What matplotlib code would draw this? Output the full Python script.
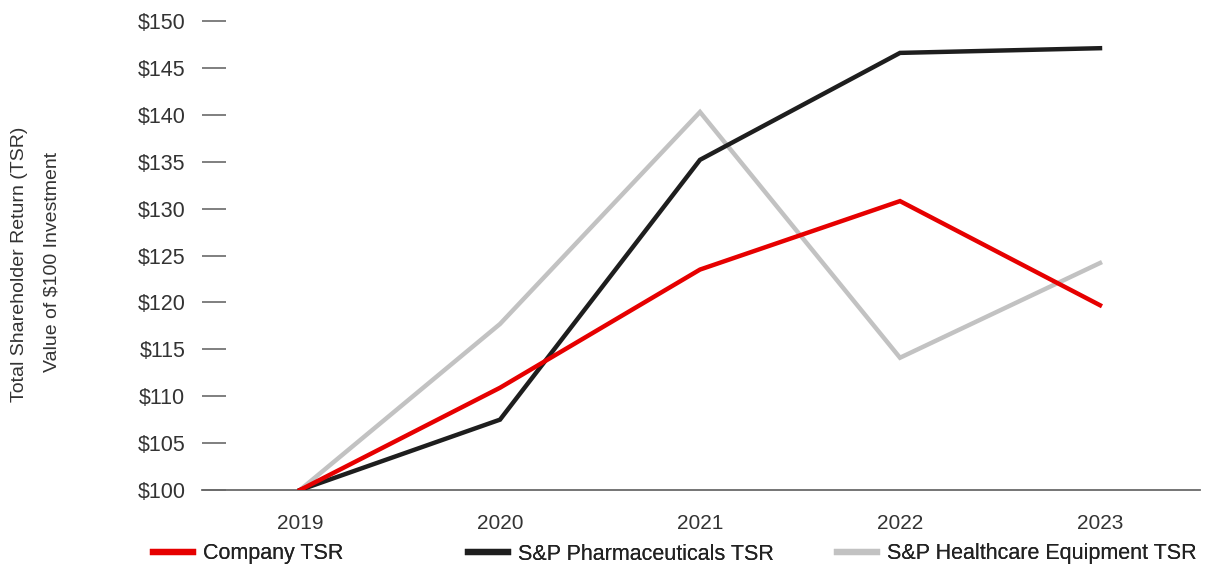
import matplotlib
matplotlib.use("Agg")
import matplotlib.pyplot as plt
from matplotlib.lines import Line2D

years = ["2019", "2020", "2021", "2022", "2023"]
company_tsr = [100, 110.9, 123.5, 130.8, 119.7]
pharma_tsr = [100, 107.5, 135.2, 146.6, 147.1]
healthcare_tsr = [100, 117.7, 140.3, 114.1, 124.2]
y_ticks = [100, 105, 110, 115, 120, 125, 130, 135, 140, 145, 150]

series_names = ["Company TSR", "S&P Pharmaceuticals TSR", "S&P Healthcare Equipment TSR"]
colors = ["#e60000", "#1e1e1e", "#c2c2c2"]

plt.rcParams["font.family"] = ["Liberation Sans", "DejaVu Sans"]

fig = plt.figure(figsize=(12.18, 5.67), dpi=100)
ax = fig.add_axes([202 / 1218, 1 - 490 / 567, (1200 - 202) / 1218, (490 - 21) / 567])

x = list(range(len(years)))
ax.plot(x, healthcare_tsr, color=colors[2], lw=3.2, solid_joinstyle="miter", zorder=2)
ax.plot(x, pharma_tsr, color=colors[1], lw=3.2, solid_joinstyle="miter", zorder=3)
ax.plot(x, company_tsr, color=colors[0], lw=3.2, solid_joinstyle="miter", zorder=4)

ax.set_xlim(-0.49, 4.5)
ax.set_ylim(100, 150)
ax.set_xticks(x)
ax.set_xticklabels(years)
ax.set_yticks(y_ticks)
ax.set_yticklabels([f"${v}" for v in y_ticks])

for s in ["top", "right", "left"]:
    ax.spines[s].set_visible(False)
ax.spines["bottom"].set_color("#6a6a6a")
ax.spines["bottom"].set_linewidth(1.3)

ax.tick_params(axis="y", direction="in", length=17, width=1.2, color="#6a6a6a",
               pad=12, labelsize=15.5, labelcolor="#333333")
ax.tick_params(axis="x", length=0, pad=17, labelsize=15, labelcolor="#333333")

fig.text(20 / 1218, 1 - 264 / 567, "Total Shareholder Return (TSR)", rotation=90,
         ha="center", va="center", fontsize=14, color="#333333")
fig.text(52 / 1218, 1 - 262 / 567, "Value of $100 Investment", rotation=90,
         ha="center", va="center", fontsize=14, color="#333333")

# legend entries placed individually along the bottom
legend_x = [153, 468, 837]
for name, col, lx in zip(series_names, colors, legend_x):
    h = Line2D([], [], color=col, lw=4.5)
    lg = fig.legend([h], [name], loc="center left",
                    bbox_to_anchor=(lx / 1218, 1 - 554 / 567), frameon=False,
                    fontsize=15.5, handlelength=1.85, handletextpad=0.45,
                    borderpad=0, borderaxespad=0, labelcolor="#222222")
    fig.add_artist(lg)

fig.savefig("out.png", dpi=100)
